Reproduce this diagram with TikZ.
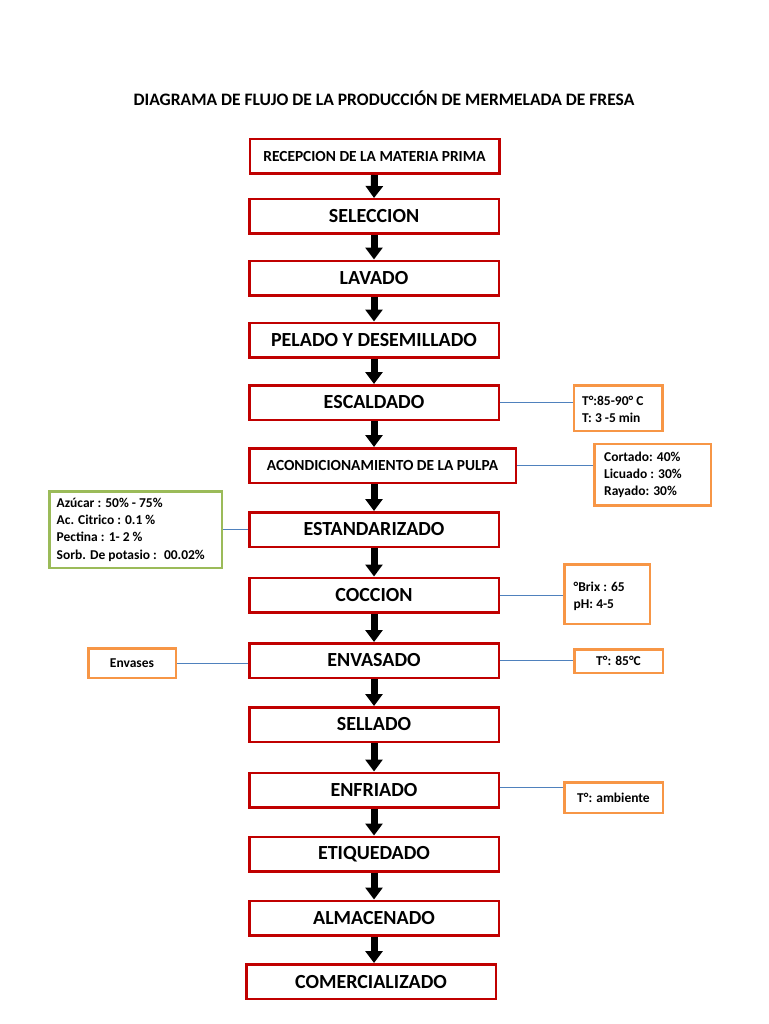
\documentclass[tikz,border=0pt]{standalone}
\usepackage{fontspec}
\setmainfont{Carlito}
\usetikzlibrary{arrows.meta,calc}
\definecolor{boxred}{RGB}{192,0,0}
\definecolor{orng}{RGB}{247,150,70}
\definecolor{grn}{RGB}{155,187,89}
\definecolor{conblue}{RGB}{79,129,189}
\begin{document}
\begin{tikzpicture}[x=1pt,y=-1pt,
  mainbox/.style={draw=boxred, line width=2.5pt, fill=white, minimum width=249.5pt, minimum height=34.5pt, inner sep=0pt, text=black, font=\fontsize{20}{24}\selectfont\bfseries},
  smallmain/.style={mainbox, font=\fontsize{15.4}{18}\selectfont\bfseries},
  sidebox/.style={draw=orng, line width=2.5pt, fill=white, inner sep=0pt, text=black, font=\fontsize{13.5}{17.3}\selectfont\bfseries},
  greenbox/.style={sidebox, draw=grn},
  sidetext/.style={inner sep=0pt, align=left, text=black, font=\fontsize{13.5}{17.3}\selectfont\bfseries},
  flow/.style={line width=7pt, black, -{Triangle[width=17pt,length=12pt]}},
  conn/.style={draw=conblue, line width=0.9pt}
]
\useasboundingbox[fill=white] (0,0) rectangle (768,1024);

\node[anchor=base, font=\fontsize{17.5}{20}\selectfont\bfseries] (title) at (384,105.5) {DIAGRAMA DE FLUJO DE LA PRODUCCIÓN DE MERMELADA DE FRESA};

% main column
\node[smallmain] (s1) at (374.5,156.5) {RECEPCION DE LA MATERIA PRIMA};
\node[mainbox] (s2) at (374,216.5) {SELECCION};
\node[mainbox] (s3) at (374,278) {LAVADO};
\node[mainbox] (s4) at (374,340) {PELADO Y DESEMILLADO};
\node[mainbox] (s5) at (374,402.5) {ESCALDADO};
\node[smallmain, minimum width=266.5pt] (s6) at (382.5,465.5) {ACONDICIONAMIENTO DE LA PULPA};
\node[mainbox] (s7) at (374,529.5) {ESTANDARIZADO};
\node[mainbox] (s8) at (374,595) {COCCION};
\node[mainbox] (s9) at (374,660.5) {ENVASADO};
\node[mainbox] (s10) at (374,724.5) {SELLADO};
\node[mainbox] (s11) at (374,790) {ENFRIADO};
\node[mainbox] (s12) at (374,854) {ETIQUEDADO};
\node[mainbox] (s13) at (374,918) {ALMACENADO};
\node[mainbox] (s14) at (371,981.5) {COMERCIALIZADO};

% arrows
\draw[flow] (s1.south) -- (s2.north);
\draw[flow] (s2.south) -- (s3.north);
\draw[flow] (s3.south) -- (s4.north);
\draw[flow] (s4.south) -- (s5.north);
\draw[flow] (s5.south) -- (s6.north -| s5.south);
\draw[flow] (s6.south -| s7.north) -- (s7.north);
\draw[flow] (s7.south) -- (s8.north);
\draw[flow] (s8.south) -- (s9.north);
\draw[flow] (s9.south) -- (s10.north);
\draw[flow] (s10.south) -- (s11.north);
\draw[flow] (s11.south) -- (s12.north);
\draw[flow] (s12.south) -- (s13.north);
\draw[flow] (s13.south) -- (s14.north -| s13.south);

% side boxes
\node[sidebox, minimum width=88.5pt, minimum height=45.5pt] (b1) at (618.4,408) {};
\node[sidetext, anchor=west] (b1t) at ([xshift=9pt,yshift=-1.5pt]b1.west) {T°:85-90° C\\T: 3 -5 min};

\node[sidebox, minimum width=116.5pt, minimum height=61.5pt] (b2) at (652.5,474.7) {};
\node[sidetext, anchor=west] (b2t) at ([xshift=11pt]b2.west) {Cortado: 40\%\\Licuado : 30\%\\Rayado: 30\%};

\node[greenbox, minimum width=172.5pt, minimum height=76.5pt] (g1) at (135.5,529.5) {};
\node[sidetext, anchor=west] (g1t) at ([xshift=8.5pt]g1.west) {Azúcar : 50\% - 75\%\\Ac. Citrico : 0.1 \%\\Pectina : 1- 2 \%\\Sorb. De potasio :~ 00.02\%};

\node[sidebox, minimum width=85.5pt, minimum height=59.5pt] (b3) at (607,594) {};
\node[sidetext, anchor=west] (b3t) at ([xshift=10.5pt,yshift=-2pt]b3.west) {°Brix : 65\\pH: 4-5};

\node[sidebox, minimum width=87.5pt, minimum height=29.5pt] (b4) at (132,663) {Envases};
\node[sidebox, minimum width=88.5pt, minimum height=23.5pt] (b5) at (618.5,661) {T°: 85°C};
\node[sidebox, minimum width=98.5pt, minimum height=30.5pt] (b6) at (613.5,797.5) {T°: ambiente};

% connectors
\draw[conn] (s5.east) -- (s5.east -| b1.west);
\draw[conn] (s6.east) -- (s6.east -| b2.west);
\draw[conn] (g1.east) -- (g1.east -| s7.west);
\draw[conn] (s8.east) -- (s8.east -| b3.west);
\draw[conn] (b4.east) -- (b4.east -| s9.west);
\draw[conn] (s9.east) -- (s9.east -| b5.west);
\draw[conn] ([yshift=3pt]s11.east) -- ([yshift=3pt]s11.east -| b6.west);
\end{tikzpicture}
\end{document}
